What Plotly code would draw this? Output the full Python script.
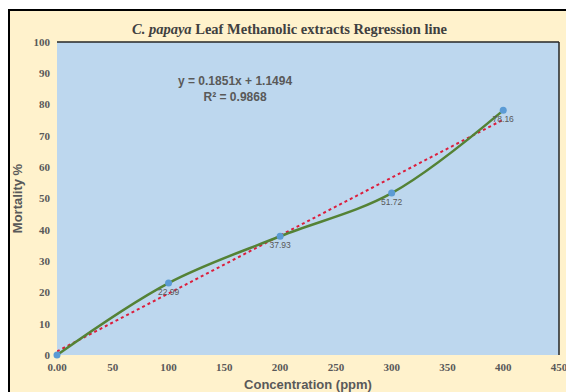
import plotly.graph_objects as go

conc = [0, 100, 200, 300, 400]
mortality = [0, 22.99, 37.93, 51.72, 78.16]
point_labels = ["", "22.99", "37.93", "51.72", "78.16"]
slope = 0.1851
intercept = 1.1494
r2 = 0.9868
x_ticks = [0, 50, 100, 150, 200, 250, 300, 350, 400, 450]
x_ticktext = ["0.00", "50", "100", "150", "200", "250", "300", "350", "400", "450"]
y_ticks = [0, 10, 20, 30, 40, 50, 60, 70, 80, 90, 100]

trend_x = [conc[0], conc[-1]]
trend_y = [slope * v + intercept for v in trend_x]

W, H = 566, 392
L, R, T, B = 57, 7, 42, 37
pw, ph = W - L - R, H - T - B

def px_x(p):
    return (p - L) / pw

def px_y(p):
    return (H - B - p) / ph

fig = go.Figure()
fig.add_trace(go.Scatter(x=trend_x, y=trend_y, mode="lines",
                         line=dict(color="#DC1E3C", width=2, dash="dot"),
                         hoverinfo="skip", showlegend=False))
fig.add_trace(go.Scatter(x=conc, y=mortality, mode="lines",
                         line=dict(color="#548235", width=2.5, shape="spline", smoothing=1.0),
                         showlegend=False))
fig.add_trace(go.Scatter(x=conc, y=mortality, mode="markers+text",
                         marker=dict(color="#5B9BD5", size=7),
                         text=point_labels, textposition="bottom center",
                         textfont=dict(family="Liberation Sans", size=8.5, color="#595959"),
                         cliponaxis=False, showlegend=False))

serif = "Liberation Serif"
sans = "Liberation Sans"

fig.update_layout(
    width=W, height=H,
    margin=dict(l=L, r=R, t=T, b=B, autoexpand=False),
    paper_bgcolor="white",
    plot_bgcolor="rgba(0,0,0,0)",
    xaxis=dict(range=[0, 450], tickvals=x_ticks,
               ticktext=x_ticktext, automargin=False,
               ticklabeloverflow="allow", ticklabelstandoff=4,
               showgrid=False, zeroline=False, showline=False, ticks="",
               tickfont=dict(family=serif, size=11, color="#595959", weight="bold"),
               title=dict(text="Concentration (ppm)", standoff=7,
                          font=dict(family=sans, size=13, color="#595959", weight="bold"))),
    yaxis=dict(range=[0, 100], tickvals=y_ticks, automargin=False,
               showgrid=False, zeroline=False, showline=False, ticks="",
               ticklabelstandoff=6,
               tickfont=dict(family=serif, size=11, color="#595959", weight="bold"),
               title=dict(text="Mortality %", standoff=7,
                          font=dict(family=sans, size=13, color="#595959", weight="bold"))),
    shapes=[
        dict(type="rect", xref="paper", yref="paper", layer="below",
             x0=px_x(9), x1=px_x(600), y0=px_y(420), y1=px_y(10),
             fillcolor="#FFF2CC", line=dict(color="black", width=2)),
        dict(type="rect", xref="x domain", yref="y domain", layer="below",
             x0=0, x1=1, y0=0, y1=1, fillcolor="#BDD7EE", line=dict(width=0)),
        dict(type="line", xref="x domain", yref="y domain", x0=0, x1=1, y0=1, y1=1,
             line=dict(color="#262626", width=1.5)),
        dict(type="line", xref="x domain", yref="y domain", x0=1, x1=1, y0=0, y1=1,
             line=dict(color="#262626", width=1.5)),
    ],
    annotations=[
        dict(text="<i>C. papaya</i> Leaf Methanolic extracts Regression line",
             xref="paper", yref="paper", x=px_x(290), y=px_y(28.5),
             xanchor="center", yanchor="middle", showarrow=False,
             font=dict(family=serif, size=14.5, color="#404040", weight="bold")),
        dict(text=f"y = {slope}x + {intercept}<br>R² = {r2}",
             x=160, y=85, xref="x", yref="y", showarrow=False,
             xanchor="center", yanchor="middle",
             font=dict(family=sans, size=12, color="#595959", weight="bold")),
    ],
)

fig.write_html("out.html", config={"displayModeBar": False},
               post_script="document.body.style.margin='0';document.body.style.overflow='hidden';")
